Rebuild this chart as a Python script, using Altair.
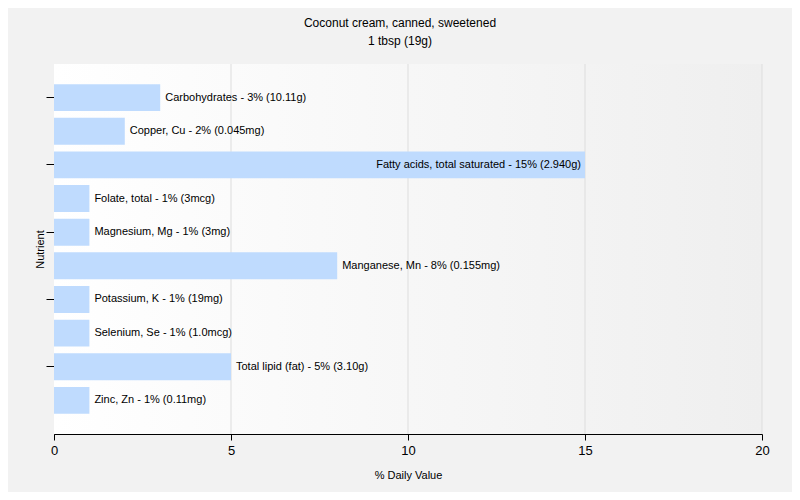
import altair as alt
import pandas as pd

nutrients = [
    "Carbohydrates", "Copper, Cu", "Fatty acids, total saturated", "Folate, total",
    "Magnesium, Mg", "Manganese, Mn", "Potassium, K", "Selenium, Se",
    "Total lipid (fat)", "Zinc, Zn",
]
values = [3, 2, 15, 1, 1, 8, 1, 1, 5, 1]
amounts = ["10.11g", "0.045mg", "2.940g", "3mcg", "3mg", "0.155mg", "19mg", "1.0mcg", "3.10g", "0.11mg"]
inside = [False, False, True, False, False, False, False, False, False, False]
tick_cats = ["Carbohydrates", "Fatty acids, total saturated", "Magnesium, Mg", "Potassium, K", "Total lipid (fat)"]
x_ticks = [0, 5, 10, 15, 20]
grid_vals = [5, 10, 15, 20]

df = pd.DataFrame({
    "Nutrient": nutrients,
    "value": values,
    "label": [f"{n} - {v}% ({a})" for n, v, a in zip(nutrients, values, amounts)],
    "inside": inside,
})
grid_df = pd.DataFrame({"value": grid_vals})

FONT = "Liberation Sans"
W, H = 708, 370

y_enc = alt.Y(
    "Nutrient:N",
    sort=nutrients,
    scale=alt.Scale(paddingInner=0.2, paddingOuter=0.6),
    axis=alt.Axis(
        title="Nutrient", labels=False, values=tick_cats, tickSize=8, tickColor="black",
        domainColor="black", titleFontWeight="normal", titleFont=FONT, titleFontSize=11,
        titleColor="black", titlePadding=0, grid=False,
    ),
)
x_enc = alt.X(
    "value:Q",
    scale=alt.Scale(domain=[0, 20]),
    axis=alt.Axis(
        title="% Daily Value", values=x_ticks, tickSize=6, tickColor="black",
        domainColor="black", grid=False, labelFont=FONT, labelFontSize=13,
        labelColor="black", labelFlush=False, titleFont=FONT, titleFontSize=11,
        titleFontWeight="normal", titleColor="black", titlePadding=12, labelPadding=4,
    ),
)

bg = alt.Chart(pd.DataFrame({"a": [0]})).mark_rect(
    color=alt.LinearGradient(
        gradient="linear", x1=0, y1=0, x2=1, y2=0,
        stops=[alt.GradientStop(color="#ffffff", offset=0), alt.GradientStop(color="#efefef", offset=1)],
    )
).encode(x=alt.value(0), x2=alt.value(W), y=alt.value(0), y2=alt.value(H))

grid = alt.Chart(grid_df).mark_rule(color="#dddddd", strokeWidth=1).encode(
    x=alt.X("value:Q", scale=alt.Scale(domain=[0, 20]))
)

base = alt.Chart(df)
bars = base.mark_bar(color="#bfdbfe").encode(x=x_enc, y=y_enc)
outside_text = base.transform_filter("!datum.inside").mark_text(
    align="left", dx=5, font=FONT, fontSize=11, color="black"
).encode(x="value:Q", y=alt.Y("Nutrient:N", sort=nutrients), text="label:N")
inside_text = base.transform_filter("datum.inside").mark_text(
    align="right", dx=-4, font=FONT, fontSize=11, color="black"
).encode(x="value:Q", y=alt.Y("Nutrient:N", sort=nutrients), text="label:N")

chart = (
    alt.layer(bg, grid, bars, outside_text, inside_text)
    .properties(
        width=W,
        height=H,
        autosize=alt.AutoSizeParams(type="none"),
        padding={"left": 46, "top": 56, "right": 30, "bottom": 58},
        background="#f2f2f2",
        title=alt.TitleParams(
            text=["Coconut cream, canned, sweetened", "1 tbsp (19g)"],
            font=FONT, fontSize=12, fontWeight="normal", color="black",
            anchor="middle", offset=16, lineHeight=18, dx=-8,
        ),
    )
    .configure_view(stroke=None)
)

chart.save("out.html", embed_options={"renderer": "svg", "actions": False})
